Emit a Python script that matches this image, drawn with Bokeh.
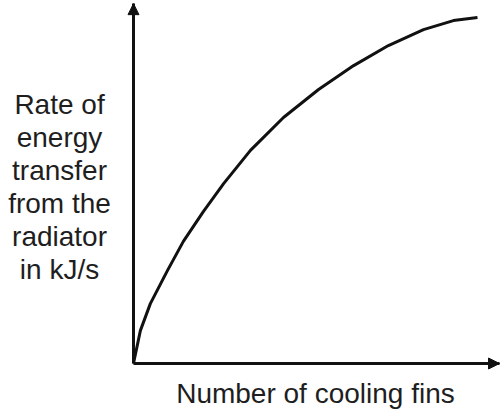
from bokeh.plotting import figure
from bokeh.models import Range1d, FixedTicker, Arrow, NormalHead, Label, LinearAxis
from bokeh.embed import file_html
from bokeh.resources import INLINE

# Data (arbitrary units)
fins = [0.0, 0.20, 0.49, 0.99, 1.45, 2.03, 2.62, 3.40, 4.36, 5.38, 6.40, 7.41, 8.43, 9.30, 10.0]
rate = [0.0, 0.95, 1.73, 2.69, 3.53, 4.39, 5.20, 6.16, 7.11, 7.92, 8.61, 9.19, 9.65, 9.91, 10.0]

x_title = "Number of cooling fins"
y_title_lines = ["Rate of", "energy", "transfer", "from the", "radiator", "in kJ/s"]

X_END = 10.64   # end of the x-axis arrow
Y_END = 10.40   # end of the y-axis arrow

p = figure(width=500, height=412, output_backend="svg", toolbar_location=None,
           x_range=Range1d(-3.866, 10.669), y_range=Range1d(-1.416, 10.491),
           x_axis_location=None, y_axis_location=None,
           min_border=0)
p.outline_line_color = None
p.grid.visible = False
p.background_fill_color = "white"
p.border_fill_color = "white"

for side, bounds in (("left", (0, Y_END)), ("below", (0, X_END))):
    ax = LinearAxis(fixed_location=0, bounds=bounds)
    ax.ticker = FixedTicker(ticks=[])
    ax.major_tick_line_color = None
    ax.minor_tick_line_color = None
    ax.major_label_text_font_size = "0px"
    ax.axis_line_width = 3
    ax.axis_line_color = "#111111"
    p.add_layout(ax, side)

TXT = dict(text_font="Liberation Sans", text_font_size="28px",
           text_color="#1e1e1e", text_align="center", text_baseline="alphabetic")

# y title: six centred lines to the left of the axis
ys = [7.49, 6.53, 5.58, 4.62, 3.67, 2.72]
for line, yv in zip(y_title_lines, ys):
    p.add_layout(Label(x=-2.15, y=yv, text=line, **TXT))

# x title below the axis
p.add_layout(Label(x=5.29, y=-0.87, text=x_title, **TXT))

# arrow heads on the axes
p.add_layout(Arrow(end=NormalHead(size=11, fill_color="#111111", line_color="#111111"),
                   x_start=0, y_start=0, x_end=0, y_end=Y_END, line_alpha=0))
p.add_layout(Arrow(end=NormalHead(size=11, fill_color="#111111", line_color="#111111"),
                   x_start=0, y_start=0, x_end=X_END, y_end=0, line_alpha=0))

p.line(fins, rate, line_width=3, line_color="#111111", line_join="round")

open("out.html", "w").write(file_html(p, INLINE))
